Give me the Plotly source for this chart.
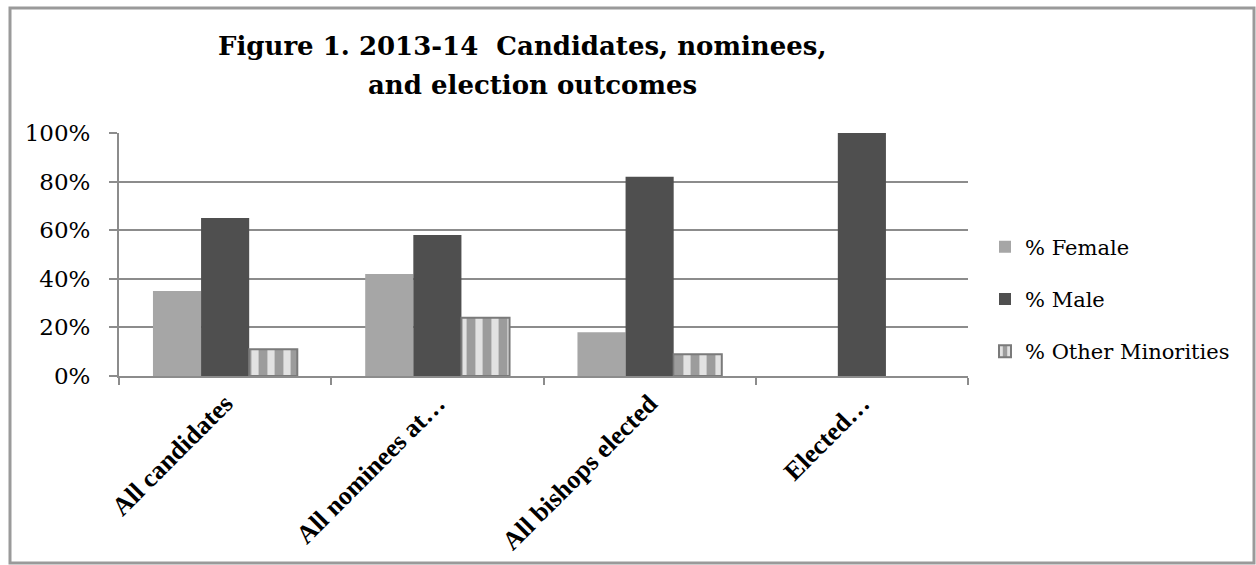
import plotly.graph_objects as go

categories = ["All candidates", "All nominees at…", "All bishops elected", "Elected…"]
female = [0.35, 0.42, 0.18, 0.0]
male = [0.65, 0.58, 0.82, 1.0]
minorities = [0.11, 0.24, 0.09, 0.0]
y_ticks = [0, 0.2, 0.4, 0.6, 0.8, 1.0]
y_labels = ["0%", "20%", "40%", "60%", "80%", "100%"]
title_lines = ["Figure 1. 2013-14  Candidates, nominees,", "and election outcomes"]

W, H = 1256, 565
L, R, T, B = 119, 288, 133, 189
pw, ph = W - L - R, H - T - B

def px_x(p):
    return (p - L) / pw

def px_y(p):
    return (H - B - p) / ph

fig = go.Figure()
fig.add_trace(go.Bar(x=categories, y=female, name="% Female",
                     marker=dict(color="#a6a6a6", line=dict(width=0)),
                     legendgroup="f"))
fig.add_trace(go.Bar(x=categories, y=male, name="% Male",
                     marker=dict(color="#4f4f4f", line=dict(width=0)),
                     legendgroup="m"))
fig.add_trace(go.Bar(x=categories, y=minorities, name="% Other Minorities",
                     marker=dict(color="#c0c0c0",
                                 line=dict(color="#7a7a7a",
                                           width=[2 if v > 0 else 0 for v in minorities]),
                                 pattern=dict(shape="|", fgcolor="#e2e2e2",
                                              bgcolor="#9c9c9c", size=16,
                                              solidity=0.45, fillmode="replace")),
                     legendgroup="o"))

annotations = [
    dict(text="<b>" + title_lines[0] + "</b>", xref="paper", yref="paper",
         x=px_x(522), y=px_y(46), xanchor="center", yanchor="middle", showarrow=False,
         font=dict(family="DejaVu Serif", size=26, color="black")),
    dict(text="<b>" + title_lines[1] + "</b>", xref="paper", yref="paper",
         x=px_x(532), y=px_y(85), xanchor="center", yanchor="middle", showarrow=False,
         font=dict(family="DejaVu Serif", size=26, color="black")),
]

fig.update_layout(
    width=W, height=H,
    margin=dict(l=L, r=R, t=T, b=B),
    paper_bgcolor="white", plot_bgcolor="white",
    barmode="group", bargap=0.32, bargroupgap=0,
    annotations=annotations,
    legend=dict(x=px_x(985), xanchor="left", y=px_y(299), yanchor="middle",
                font=dict(family="DejaVu Serif", size=21, color="black"),
                tracegroupgap=22, bgcolor="rgba(0,0,0,0)"),
    showlegend=True,
    xaxis=dict(type="category", showline=True, linecolor="#8c8c8c", linewidth=2,
               ticks="outside", tickson="boundaries", ticklen=7, tickcolor="#8c8c8c",
               tickwidth=2, tickangle=-45, automargin=False,
               tickfont=dict(family="Liberation Serif", size=26, color="black", weight="bold"),
               showgrid=False),
    yaxis=dict(range=[0, 1], tickvals=y_ticks, ticktext=y_labels,
               showline=True, linecolor="#8c8c8c", linewidth=2,
               ticks="outside", ticklen=8, tickcolor="#8c8c8c", tickwidth=2,
               ticklabelstandoff=14, automargin=False,
               showgrid=True, gridcolor="#8c8c8c", gridwidth=2,
               tickfont=dict(family="DejaVu Serif", size=23, color="black"),
               zeroline=False),
    shapes=[dict(type="rect", xref="paper", yref="paper",
                 x0=px_x(10), x1=px_x(1254), y0=px_y(563), y1=px_y(8),
                 line=dict(color="#9a9a9a", width=3), layer="below")],
)

fig.write_html("out.html")
